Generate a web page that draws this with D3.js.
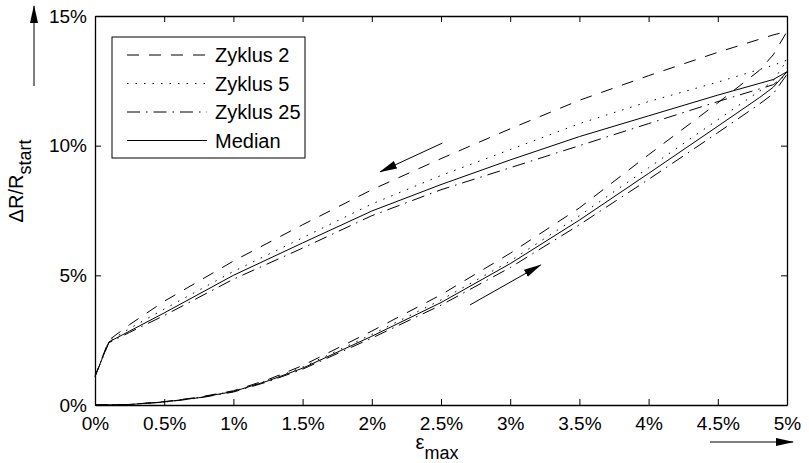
<!DOCTYPE html>
<html>
<head>
<meta charset="utf-8">
<script src="https://cdn.jsdelivr.net/npm/d3@7"></script>
<style>
    body { margin: 0; background: #fff; }
    text { font-family: "Liberation Sans", Arial, sans-serif; fill: #000; }
</style>
</head>
<body>
<div id="chart"></div>
<script>
// strain grid (%) for the loading branch and the unloading branch
var loadStrain = [0, 0.25, 0.5, 0.75, 1, 1.25, 1.5, 2, 2.5, 3, 3.5, 4, 4.5, 4.8, 4.9, 5];
var unloadStrain = [5, 4.9, 4.5, 4, 3.5, 3, 2.5, 2, 1.5, 1, 0.5, 0.25, 0.1, 0];

// dR/R_start (%) per series
var load2 = [0, 0.02, 0.13, 0.3, 0.55, 0.98, 1.52, 2.85, 4.25, 5.85, 7.6, 9.65, 11.65, 12.9, 13.5, 14.4];
var unload2 = [14.4, 14.27, 13.6, 12.7, 11.75, 10.65, 9.5, 8.3, 6.95, 5.55, 4.0, 3.1, 2.5, 1.1];
var load5 = [0, 0.02, 0.12, 0.29, 0.53, 0.95, 1.46, 2.72, 4.05, 5.55, 7.3, 9.15, 11.0, 12.1, 12.5, 13.3];
var unload5 = [13.3, 13.1, 12.45, 11.7, 10.85, 9.85, 8.85, 7.75, 6.45, 5.15, 3.7, 2.95, 2.45, 1.1];
var load25 = [0, 0.02, 0.11, 0.27, 0.5, 0.9, 1.38, 2.58, 3.85, 5.3, 6.95, 8.7, 10.5, 11.6, 12.0, 12.75];
var unload25 = [12.75, 12.35, 11.7, 10.85, 10.0, 9.15, 8.3, 7.3, 6.05, 4.85, 3.45, 2.8, 2.4, 1.1];
var loadMedian = [0, 0.02, 0.12, 0.28, 0.52, 0.93, 1.42, 2.65, 3.95, 5.45, 7.13, 8.93, 10.75, 11.85, 12.25, 12.85];
var unloadMedian = [12.85, 12.55, 11.95, 11.15, 10.35, 9.45, 8.5, 7.48, 6.25, 5.0, 3.55, 2.85, 2.43, 1.1];

var seriesNames = ["Zyklus 2", "Zyklus 5", "Zyklus 25", "Median"];
var xTicks = [0, 0.5, 1, 1.5, 2, 2.5, 3, 3.5, 4, 4.5, 5];
var yTicks = [0, 5, 10, 15];

// direction arrows inside the plot, [x0, y0, x1, y1] in data units
var unloadArrow = [2.51, 10.1, 2.06, 8.99];
var loadArrow = [2.71, 3.86, 3.22, 5.4];

let drawChart = () => {
    var width = 809
    var height = 463
    var left = 95, right = 787, top = 16, bottom = 405

    var svg = d3.select("#chart")
        .append("svg")
        .attr("width", width)
        .attr("height", height)

    var defs = svg.append("defs")
    defs.append("marker")
        .attr("id", "head")
        .attr("markerUnits", "userSpaceOnUse")
        .attr("viewBox", "0 -5 18 10")
        .attr("refX", 17).attr("refY", 0)
        .attr("markerWidth", 18).attr("markerHeight", 10)
        .attr("orient", "auto")
        .append("path")
        .attr("d", "M0,-4L18,0L0,4Z")
        .attr("fill", "#000")

    var x = d3.scaleLinear().domain([0, 5]).range([left, right])
    var y = d3.scaleLinear().domain([0, 15]).range([bottom, top])

    var pct = (d) => d + "%"

    // axes with inward ticks, mirrored on top/right
    var gx = svg.append("g")
        .attr("transform", "translate(0," + bottom + ")")
        .call(d3.axisBottom(x).tickValues(xTicks).tickFormat(pct)
            .tickSizeInner(-6).tickSizeOuter(0).tickPadding(12))
    svg.append("g")
        .attr("transform", "translate(0," + top + ")")
        .call(d3.axisTop(x).tickValues(xTicks).tickFormat("")
            .tickSizeInner(-6).tickSizeOuter(0))
    var gy = svg.append("g")
        .attr("transform", "translate(" + left + ",0)")
        .call(d3.axisLeft(y).tickValues(yTicks).tickFormat(pct)
            .tickSizeInner(-6).tickSizeOuter(0).tickPadding(8))
    svg.append("g")
        .attr("transform", "translate(" + right + ",0)")
        .call(d3.axisRight(y).tickValues(yTicks).tickFormat("")
            .tickSizeInner(-6).tickSizeOuter(0))

    svg.selectAll(".domain").attr("stroke", "#000").attr("stroke-width", 1.3)
    svg.selectAll(".tick line").attr("stroke", "#000")
    svg.selectAll(".tick text").style("font-size", "19px").attr("fill", "#000")
    gx.selectAll(".tick text").attr("dy", "0.71em")

    // curves
    var styles = [
        { name: seriesNames[0], load: load2, unload: unload2, dash: "12,10" },
        { name: seriesNames[1], load: load5, unload: unload5, dash: "1.5,7" },
        { name: seriesNames[2], load: load25, unload: unload25, dash: "13,6,1.5,6" },
        { name: seriesNames[3], load: loadMedian, unload: unloadMedian, dash: null }
    ]

    var line = d3.line()
        .x((d) => x(d[0]))
        .y((d) => y(d[1]))

    styles.forEach((s) => {
        var pts = loadStrain.map((e, i) => [e, s.load[i]])
            .concat(unloadStrain.slice(1).map((e, i) => [e, s.unload[i + 1]]))
        svg.append("path")
            .datum(pts)
            .attr("d", line)
            .attr("fill", "none")
            .attr("stroke", "#000")
            .attr("stroke-width", 1)
            .attr("stroke-dasharray", s.dash)
    })

    // direction arrows
    var arrows = [unloadArrow, loadArrow]
    svg.selectAll(".dir")
        .data(arrows)
        .enter()
        .append("line")
        .attr("class", "dir")
        .attr("x1", (d) => x(d[0])).attr("y1", (d) => y(d[1]))
        .attr("x2", (d) => x(d[2])).attr("y2", (d) => y(d[3]))
        .attr("stroke", "#000")
        .attr("stroke-width", 1)
        .attr("marker-end", "url(#head)")

    // axis arrows outside the plot
    svg.append("line")
        .attr("x1", 34).attr("y1", 86).attr("x2", 34).attr("y2", 6)
        .attr("stroke", "#000").attr("marker-end", "url(#head)")
    svg.append("line")
        .attr("x1", 710).attr("y1", 442).attr("x2", 793).attr("y2", 442)
        .attr("stroke", "#000").attr("marker-end", "url(#head)")

    // axis labels
    var ylab = svg.append("text")
        .attr("transform", "translate(23,181) rotate(-90)")
        .attr("text-anchor", "middle")
        .style("font-size", "20px")
    ylab.append("tspan").text("ΔR/R")
    ylab.append("tspan").attr("dy", 8).style("font-size", "18px").text("start")

    var xlab = svg.append("text")
        .attr("x", 437).attr("y", 449)
        .attr("text-anchor", "middle")
        .style("font-size", "20px")
    xlab.append("tspan").text("ε")
    xlab.append("tspan").attr("dy", 10).style("font-size", "18px").text("max")

    // legend
    var legend = svg.append("g")
    legend.append("rect")
        .attr("x", 112).attr("y", 37)
        .attr("width", 193).attr("height", 121)
        .attr("fill", "#fff").attr("stroke", "#000").attr("stroke-width", 1)
    var rows = legend.selectAll(".row")
        .data(styles)
        .enter()
        .append("g")
        .attr("transform", (d, i) => "translate(0," + (55 + i * 28.5) + ")")
    rows.append("line")
        .attr("x1", 127).attr("x2", 207)
        .attr("stroke", "#000").attr("stroke-width", 1)
        .attr("stroke-dasharray", (d) => d.dash)
    rows.append("text")
        .attr("x", 215).attr("dy", "0.35em")
        .style("font-size", "20px")
        .text((d) => d.name)
}

drawChart();
</script>
</body>
</html>
